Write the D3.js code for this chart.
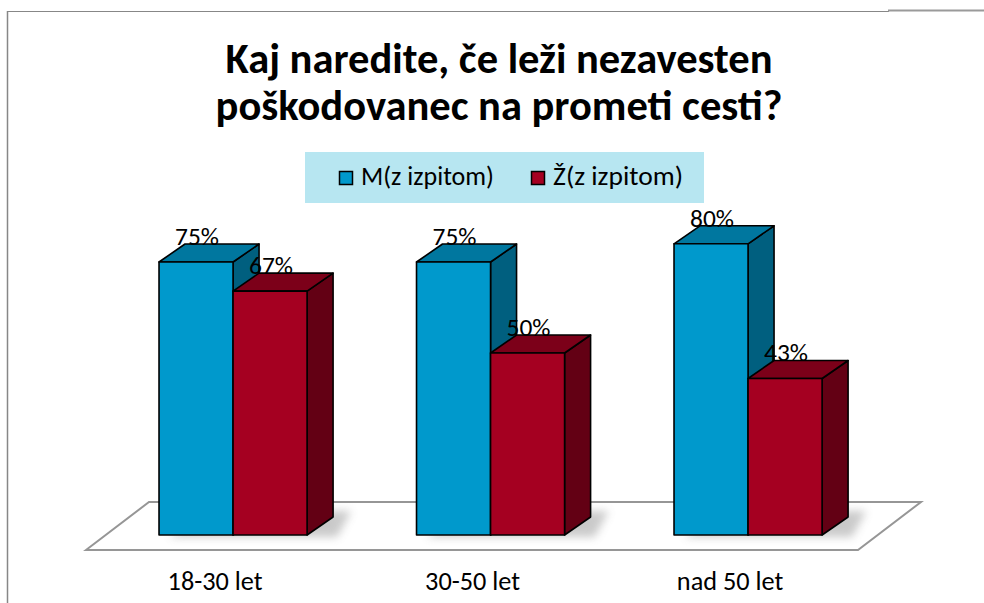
<!DOCTYPE html>
<html>
<head>
<meta charset="utf-8">
<script src="https://cdn.jsdelivr.net/npm/d3@7"></script>
<style>
  html, body { margin: 0; padding: 0; background: #ffffff; }
  svg { display: block; }
</style>
</head>
<body>
<svg id="chart" width="984" height="603"></svg>
<script>
// ---- data ----
const titleLines = ["Kaj naredite, če leži nezavesten", "poškodovanec na prometi cesti?"];
const categories = ["18-30 let", "30-50 let", "nad 50 let"];
const seriesNames = ["M(z izpitom)", "Ž(z izpitom)"];
const maleValues = [75, 75, 80];
const femaleValues = [67, 50, 43];
const seriesValues = [maleValues, femaleValues];

// ---- styles ----
const FONT = "Carlito, Calibri, Lato, sans-serif";
const colors = [
  { front: "#0099cc", top: "#00779f", side: "#005f7f" },
  { front: "#a50021", top: "#7c0019", side: "#630014" }
];
const DX = 26, DY = 18;

const svg = d3.select("#chart");

function fitFont(sel, target) {
  let fs = 20;
  sel.attr("font-size", fs);
  const w = sel.node().getComputedTextLength();
  fs = fs * target / w;
  sel.attr("font-size", fs.toFixed(2));
  return fs;
}

// chart border
svg.append("line").attr("x1", 7.5).attr("x2", 7.5).attr("y1", 11).attr("y2", 603)
  .attr("stroke", "#878787").attr("stroke-width", 1.5);
svg.append("line").attr("x1", 7).attr("x2", 889).attr("y1", 11.5).attr("y2", 11.5)
  .attr("stroke", "#878787").attr("stroke-width", 1);
svg.append("line").attr("x1", 888).attr("x2", 984).attr("y1", 10.5).attr("y2", 10.5)
  .attr("stroke", "#9a9a9a").attr("stroke-width", 2);

// title
const titleY = [73, 120];
const titleW = [547, 567];
titleLines.forEach((t, i) => {
  const tx = svg.append("text").text(t)
    .attr("x", 499).attr("y", titleY[i])
    .attr("text-anchor", "middle")
    .attr("font-family", FONT).attr("font-weight", "bold").attr("fill", "#000");
  fitFont(tx, titleW[i]);
});

// legend
const legend = svg.append("g");
legend.append("rect").attr("x", 305).attr("y", 152).attr("width", 399).attr("height", 51)
  .attr("fill", "#b7e6f1");
const legX = [339, 531];
seriesNames.forEach((s, i) => {
  legend.append("rect").attr("x", legX[i] + 0.5).attr("y", 171.5).attr("width", 13).attr("height", 13)
    .attr("fill", colors[i].front).attr("stroke", "#000").attr("stroke-width", 1.5);
  const lt = legend.append("text").text(s)
    .attr("x", legX[i] + 22).attr("y", 185)
    .attr("font-family", FONT).attr("fill", "#000");
  fitFont(lt, i === 0 ? 133 : 130);
});

// scales
const x = d3.scaleBand().domain(categories).range([104.3, 876.8])
  .paddingInner(0.425).paddingOuter(0.2125);
const xs = d3.scaleBand().domain(seriesNames).range([0, x.bandwidth()]).padding(0);
const y = d3.scaleLinear().domain([0, 100]).range([535, 171]);

// floor
const y0 = y(0);
const floorFront = y0 + 15, floorBack = y0 - 33;
const fl = 86, fr = 858, fdx = 63;
svg.append("path")
  .attr("d", `M${fl},${floorFront} L${fl + fdx},${floorBack} L${fr + fdx},${floorBack} L${fr},${floorFront} Z`)
  .attr("fill", "#ffffff").attr("stroke", "#969696").attr("stroke-width", 2);

// shadows
const defs = svg.append("defs");
defs.append("filter").attr("id", "blur").attr("x", "-50%").attr("y", "-50%").attr("width", "200%").attr("height", "200%")
  .append("feGaussianBlur").attr("stdDeviation", 4);
categories.forEach((c) => {
  const gx = x(c), gw = x.bandwidth();
  svg.append("path")
    .attr("d", `M${gx + 10},${y0 + 2} L${gx + gw + DX + 4},${y0 + 2} L${gx + gw + DX + 18},${y0 - DY - 6} L${gx + DX + 20},${y0 - DY - 6} Z`)
    .attr("fill", "#8a8a8a").attr("opacity", 0.45).attr("filter", "url(#blur)");
});

// 3D bars
const bars = svg.append("g");
categories.forEach((c, ci) => {
  seriesNames.forEach((s, si) => {
    const v = seriesValues[si][ci];
    const x0 = x(c) + xs(s), w = xs.bandwidth();
    const yt = y(v), yb = y(0);
    const col = colors[si];
    const g = bars.append("g").attr("stroke", "#000").attr("stroke-width", 1.6).attr("stroke-linejoin", "round");
    g.append("path")
      .attr("d", `M${x0 + w},${yt} L${x0 + w + DX},${yt - DY} L${x0 + w + DX},${yb - DY} L${x0 + w},${yb} Z`)
      .attr("fill", col.side);
    g.append("path")
      .attr("d", `M${x0},${yt} L${x0 + DX},${yt - DY} L${x0 + w + DX},${yt - DY} L${x0 + w},${yt} Z`)
      .attr("fill", col.top);
    g.append("rect").attr("x", x0).attr("y", yt).attr("width", w).attr("height", yb - yt)
      .attr("fill", col.front);
  });
});

// value labels (single font size)
const probe = svg.append("text").text("75%").attr("font-family", FONT);
const valueFs = fitFont(probe, 44);
probe.remove();
categories.forEach((c, ci) => {
  seriesNames.forEach((s, si) => {
    const v = seriesValues[si][ci];
    const cx = x(c) + xs(s) + xs.bandwidth() / 2 + 1;
    svg.append("text").text(v + "%")
      .attr("x", cx).attr("y", y(v) - DY + 1)
      .attr("text-anchor", "middle")
      .attr("font-family", FONT).attr("font-size", valueFs.toFixed(2)).attr("fill", "#000");
  });
});

// category axis
const probe2 = svg.append("text").text(categories[0]).attr("font-family", FONT);
const axisFs = fitFont(probe2, 95);
probe2.remove();
const axisG = svg.append("g")
  .attr("transform", `translate(-18, 590)`)
  .call(d3.axisBottom(x).tickSize(0).tickPadding(0));
axisG.select(".domain").remove();
axisG.attr("font-family", FONT).attr("font-size", axisFs.toFixed(2));
axisG.selectAll("text")
  .attr("dy", 0).attr("y", 0)
  .attr("fill", "#000");
</script>
</body>
</html>
